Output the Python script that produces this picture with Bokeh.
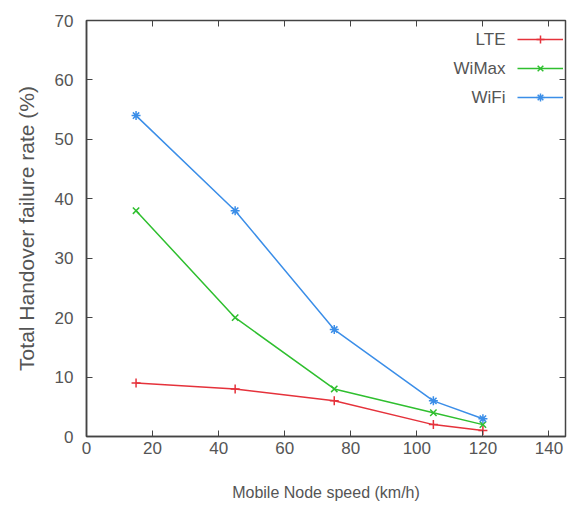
from bokeh.plotting import figure
from bokeh.models import Range1d, LinearAxis, Legend, LegendItem, FixedTicker, Label
from bokeh.embed import file_html
from bokeh.resources import INLINE

speed = [15, 45, 75, 105, 120]
lte = [9, 8, 6, 2, 1]
wimax = [38, 20, 8, 4, 2]
wifi = [54, 38, 18, 6, 3]
x_ticks = [0, 20, 40, 60, 80, 100, 120, 140]
y_ticks = [0, 10, 20, 30, 40, 50, 60, 70]
names = ["LTE", "WiMax", "WiFi"]
colors = ["#e5323b", "#2fbf2f", "#3b8ee8"]
markers = ["cross", "x", "asterisk"]

FONT = "Liberation Sans"
GRAY = "#555555"
FRAME = "#444444"

p = figure(width=567, height=503, output_backend="svg", toolbar_location=None,
           x_range=Range1d(0, 145), y_range=Range1d(0, 70),
           min_border_left=86, min_border_top=20, min_border_bottom=66, min_border_right=2)
p.grid.visible = False
p.outline_line_color = FRAME
p.outline_line_width = 1.5
p.background_fill_color = "white"
p.border_fill_color = "white"

for ax, ticks in ((p.xaxis[0], x_ticks), (p.yaxis[0], y_ticks)):
    ax.ticker = FixedTicker(ticks=ticks)
    ax.major_tick_in = 6
    ax.major_tick_out = 0
    ax.minor_tick_line_color = None
    ax.axis_line_color = FRAME
    ax.axis_line_width = 1.5
    ax.major_tick_line_color = FRAME
    ax.major_label_text_font = FONT
    ax.major_label_text_font_size = "17px"
    ax.major_label_text_color = GRAY
    ax.axis_label_text_font = FONT
    ax.axis_label_text_font_style = "normal"
    ax.axis_label_text_color = GRAY

p.xaxis[0].axis_label = "Mobile Node speed (km/h)"
p.xaxis[0].axis_label_text_font_size = "16px"
p.xaxis[0].major_label_standoff = 5
p.xaxis[0].axis_label_standoff = 27
p.yaxis[0].axis_label = "Total Handover failure rate (%)"
p.yaxis[0].axis_label_text_font_size = "21px"
p.yaxis[0].major_label_standoff = 13
p.yaxis[0].axis_label_standoff = 14

top = LinearAxis(ticker=FixedTicker(ticks=x_ticks))
top.major_label_overrides = {t: "" for t in x_ticks}
right = LinearAxis(ticker=FixedTicker(ticks=y_ticks))
right.major_label_overrides = {t: "" for t in y_ticks}
for ax in (top, right):
    ax.major_tick_in = 6
    ax.major_tick_out = 0
    ax.minor_tick_line_color = None
    ax.axis_line_color = None
    ax.major_tick_line_color = FRAME
    ax.major_label_text_font_size = "1px"
    ax.major_label_standoff = 0
p.add_layout(top, "above")
p.add_layout(right, "right")

series = [lte, wimax, wifi]
items = []
for name, vals, col, mk in zip(names, series, colors, markers):
    ln = p.line(speed, vals, line_color=col, line_width=1.5)
    sc = p.scatter(speed, vals, marker=mk, size=9, line_color=col, line_width=1.5)
    items.append(LegendItem(label=" ", renderers=[ln, sc]))

# legend: glyph samples on the right, names right-aligned to their left (gnuplot style)
frame_h = 417
leg = Legend(items=items, location=(431, frame_h - 10 - 78))
leg.background_fill_alpha = 0
leg.border_line_color = None
leg.label_text_font_size = "4px"
leg.glyph_width = 46
leg.glyph_height = 20
leg.label_height = 20
leg.label_standoff = 0
leg.spacing = 9
leg.margin = 0
leg.padding = 0
p.add_layout(leg)

for i, name in enumerate(names):
    p.add_layout(Label(x=419, y=frame_h - 20 - 29 * i, x_units="screen", y_units="screen",
                       text=name, text_align="right", text_baseline="middle",
                       text_font=FONT, text_font_size="17px", text_color=GRAY))

open("out.html", "w").write(file_html(p, INLINE))
